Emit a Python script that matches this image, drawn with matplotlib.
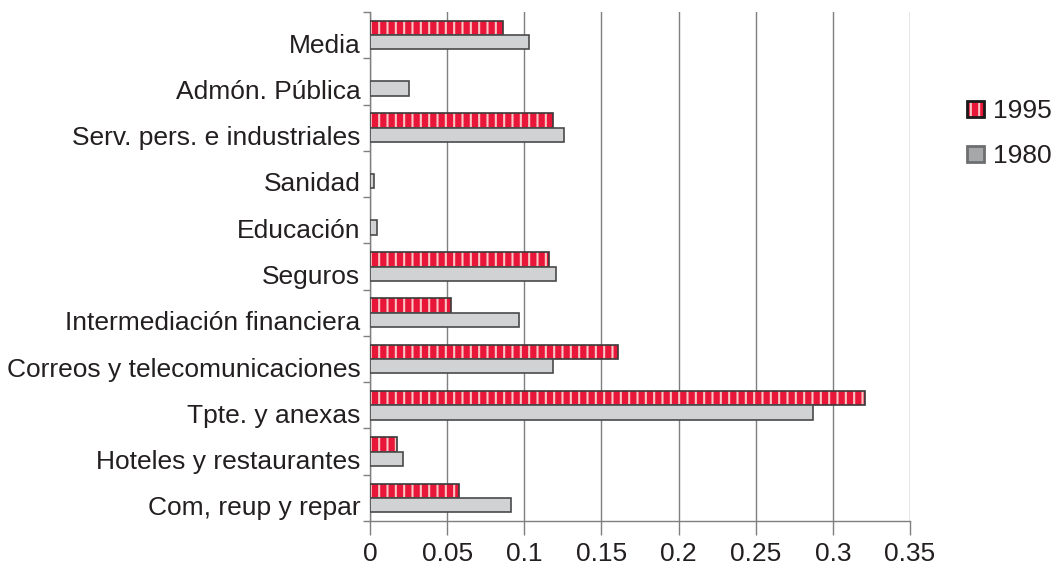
import numpy as np
import matplotlib
matplotlib.use('Agg')
import matplotlib.pyplot as plt
from matplotlib.patches import Patch
from matplotlib.transforms import ScaledTranslation

# categories listed bottom -> top
categories = ['Com, reup y repar', 'Hoteles y restaurantes', 'Tpte. y anexas',
              'Correos y telecomunicaciones', 'Intermediación financiera', 'Seguros',
              'Educación', 'Sanidad', 'Serv. pers. e industriales', 'Admón. Pública', 'Media']
val_1995 = [0.058, 0.0175, 0.321, 0.161, 0.0525, 0.116, 0, 0, 0.1186, 0, 0.086]
val_1980 = [0.0914, 0.0214, 0.287, 0.1186, 0.0966, 0.1206, 0.0045, 0.0026, 0.1257, 0.0253, 0.103]
xticks = [0, 0.05, 0.1, 0.15, 0.2, 0.25, 0.3, 0.35]
xticklabels = ['0', '0.05', '0.1', '0.15', '0.2', '0.25', '0.3', '0.35']

plt.rcParams['font.family'] = ['Liberation Sans', 'DejaVu Sans']
plt.rcParams['hatch.linewidth'] = 1.5

red = '#e8173a'
pink = '#f7c6c4'
grey = '#d1d2d4'
txt = '#231f20'
fs = 19

fig = plt.figure(figsize=(10.55, 5.66), dpi=100)
ax = fig.add_axes([370/1055, 1-521/566, 540/1055, 509/566])

y = np.arange(len(categories))
h = 0.31
v95 = np.array(val_1995, dtype=float)
v80 = np.array(val_1980, dtype=float)
m95 = v95 > 0
m80 = v80 > 0

# 1995: red fill with pink vertical stripes, then dark outline
ax.barh(y[m95] + h/2, v95[m95], height=h, color=red, edgecolor=pink, hatch='||', linewidth=0, zorder=3)
ax.barh(y[m95] + h/2, v95[m95], height=h, fill=False, edgecolor='#3a3a3a', linewidth=1.2, zorder=4)
ax.barh(y[m80] - h/2, v80[m80], height=h, color=grey, edgecolor='#4a4a4a', linewidth=1.2, zorder=4)

ax.set_xlim(0, 0.35)
ax.set_ylim(-0.5, len(categories) - 0.5)
ax.set_xticks(xticks)
ax.set_xticklabels(xticklabels)
ax.xaxis.grid(True, color='#7f7f7f', linewidth=1.0, zorder=0)
ax.set_axisbelow(True)

ax.set_yticks(y)
ax.set_yticklabels(categories)
ax.set_yticks(np.arange(len(categories) + 1) - 0.5, minor=True)
ax.tick_params(axis='y', which='major', length=0, pad=7, labelsize=fs, labelcolor=txt)
ax.tick_params(axis='y', which='minor', length=5, width=1, color='#7f7f7f', direction='out')
ax.tick_params(axis='x', which='major', length=10, width=1, color='#7f7f7f', direction='out',
               pad=5, labelsize=fs, labelcolor=txt)
off = ScaledTranslation(0, -8/100, fig.dpi_scale_trans)
for lab in ax.get_yticklabels():
    lab.set_transform(lab.get_transform() + off)

for s in ['top', 'right']:
    ax.spines[s].set_visible(False)
for s in ['left', 'bottom']:
    ax.spines[s].set_color('#7f7f7f')
    ax.spines[s].set_linewidth(1.0)

h95 = (Patch(facecolor=red, edgecolor=pink, hatch='||', linewidth=0),
       Patch(fill=False, edgecolor='#1a1a1a', linewidth=2))
h80 = Patch(facecolor='#a6a7a9', edgecolor='#6d6e70', linewidth=2)
leg = fig.legend([h95, h80], ['1995', '1980'], loc='upper right', bbox_to_anchor=(1052/1055, 1-99/566),
                 frameon=False, fontsize=fs, handlelength=0.65, handleheight=0.55,
                 handletextpad=0.35, labelspacing=0.8, borderpad=0, borderaxespad=0)
for t in leg.get_texts():
    t.set_color(txt)

fig.savefig('out.png', dpi=100)
